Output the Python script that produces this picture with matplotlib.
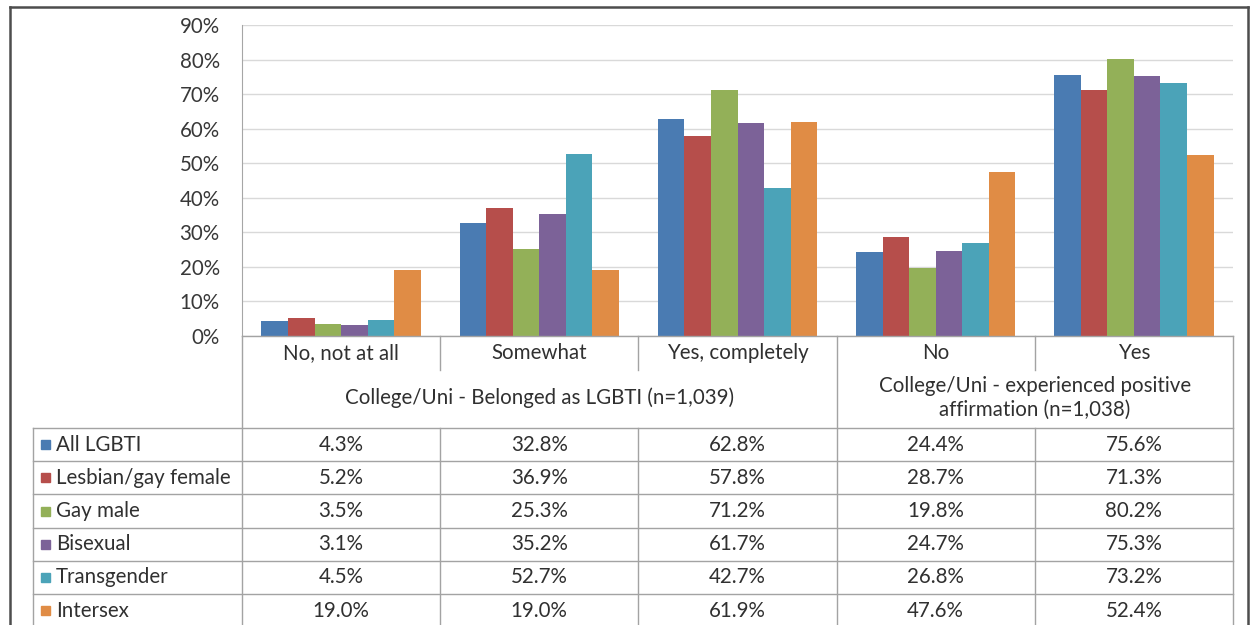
import numpy as np
import matplotlib.pyplot as plt

plt.rcParams['font.family'] = ['Lato', 'DejaVu Sans']

categories = ['No, not at all', 'Somewhat', 'Yes, completely', 'No', 'Yes']
groups = ['College/Uni - Belonged as LGBTI (n=1,039)',
          'College/Uni - experienced positive\naffirmation (n=1,038)']
group_sizes = [3, 2]
series = ['All LGBTI', 'Lesbian/gay female', 'Gay male', 'Bisexual', 'Transgender', 'Intersex']
all_lgbti = [4.3, 32.8, 62.8, 24.4, 75.6]
lesbian_gay_female = [5.2, 36.9, 57.8, 28.7, 71.3]
gay_male = [3.5, 25.3, 71.2, 19.8, 80.2]
bisexual = [3.1, 35.2, 61.7, 24.7, 75.3]
transgender = [4.5, 52.7, 42.7, 26.8, 73.2]
intersex = [19.0, 19.0, 61.9, 47.6, 52.4]
values = [all_lgbti, lesbian_gay_female, gay_male, bisexual, transgender, intersex]
colors = ['#4a7bb2', '#b64e4b', '#93b058', '#7c6298', '#4ba3b8', '#e08c45']

W, H = 1251, 625
fig = plt.figure(figsize=(W / 100, H / 100), dpi=100)
fig.patch.set_facecolor('white')

# plot area in pixel coords
px_left, px_right, px_top, px_bottom = 242, 1233, 25, 336
ax = fig.add_axes([px_left / W, 1 - px_bottom / H, (px_right - px_left) / W, (px_bottom - px_top) / H])

fs = 14.8
tc = '#303030'

x = np.arange(len(categories))
bw = 0.134
for i, (name, vals) in enumerate(zip(series, values)):
    ax.bar(x - 3 * bw + i * bw, np.array(vals) / 100, width=bw, align='edge',
           color=colors[i], zorder=3, label=name)

ax.set_xlim(-0.5, len(categories) - 0.5)
ax.set_ylim(0, 0.9)
ax.set_yticks(np.arange(0, 0.91, 0.1))
ax.set_yticklabels([f'{int(round(t * 100))}%' for t in np.arange(0, 0.91, 0.1)])
ax.tick_params(axis='y', length=0, pad=16, labelsize=fs, labelcolor='#383838')
ax.set_xticks([])
ax.grid(axis='y', color='#d9d9d9', linewidth=1, zorder=0)
for s in ['top', 'right', 'bottom']:
    ax.spines[s].set_visible(False)
ax.spines['left'].set_color('#a6a6a6')

# table overlay in pixel coordinates
tab = fig.add_axes([0, 0, 1, 1], zorder=5)
tab.set_xlim(0, W)
tab.set_ylim(H, 0)
tab.axis('off')
tab.patch.set_alpha(0)

lc = '#a3a3a3'
cw = (px_right - px_left) / len(categories)
edges = [px_left + k * cw for k in range(len(categories) + 1)]
cat_row_bottom = 370
head_bottom = 428
row_h = 33.2
table_left = 33

# horizontal lines
tab.plot([px_left, px_right], [px_bottom, px_bottom], color=lc, lw=1)
for r in range(len(series)):
    yy = head_bottom + r * row_h
    tab.plot([table_left, px_right], [yy, yy], color=lc, lw=1)

# vertical lines
tab.plot([table_left, table_left], [head_bottom, H], color=lc, lw=1)
tab.plot([px_left, px_left], [px_bottom, H], color=lc, lw=1)
tab.plot([px_right, px_right], [px_bottom, H], color=lc, lw=1)
group_edges = np.cumsum(group_sizes)
for k in range(1, len(categories)):
    if k in group_edges:
        tab.plot([edges[k], edges[k]], [px_bottom, H], color=lc, lw=1)
    else:
        tab.plot([edges[k], edges[k]], [px_bottom, cat_row_bottom], color=lc, lw=1)
        tab.plot([edges[k], edges[k]], [head_bottom, H], color=lc, lw=1)

# category labels
for k, cat in enumerate(categories):
    tab.text((edges[k] + edges[k + 1]) / 2, 353, cat, ha='center', va='center',
             fontsize=fs, color=tc)

# group labels
start = 0
for g, n in zip(groups, group_sizes):
    gx = (edges[start] + edges[start + n]) / 2
    tab.text(gx, 398, g, ha='center', va='center', fontsize=fs, color=tc, linespacing=1.25)
    start += n

# data rows
for r, (name, vals) in enumerate(zip(series, values)):
    yc = head_bottom + (r + 0.5) * row_h
    tab.add_patch(plt.Rectangle((41, yc - 4.5), 9, 9, color=colors[r]))
    tab.text(56, yc, name, ha='left', va='center', fontsize=fs, color=tc)
    for k, v in enumerate(vals):
        tab.text((edges[k] + edges[k + 1]) / 2, yc, f'{v:.1f}%', ha='center', va='center',
                 fontsize=fs, color=tc)

# outer frame
fc = '#4d4d4d'
tab.plot([10, 10], [7, H], color=fc, lw=1.8)
tab.plot([10, 1248], [7, 7], color=fc, lw=1.8)
tab.plot([1248, 1248], [7, H], color=fc, lw=1.8)

fig.savefig('out.png', dpi=100)
